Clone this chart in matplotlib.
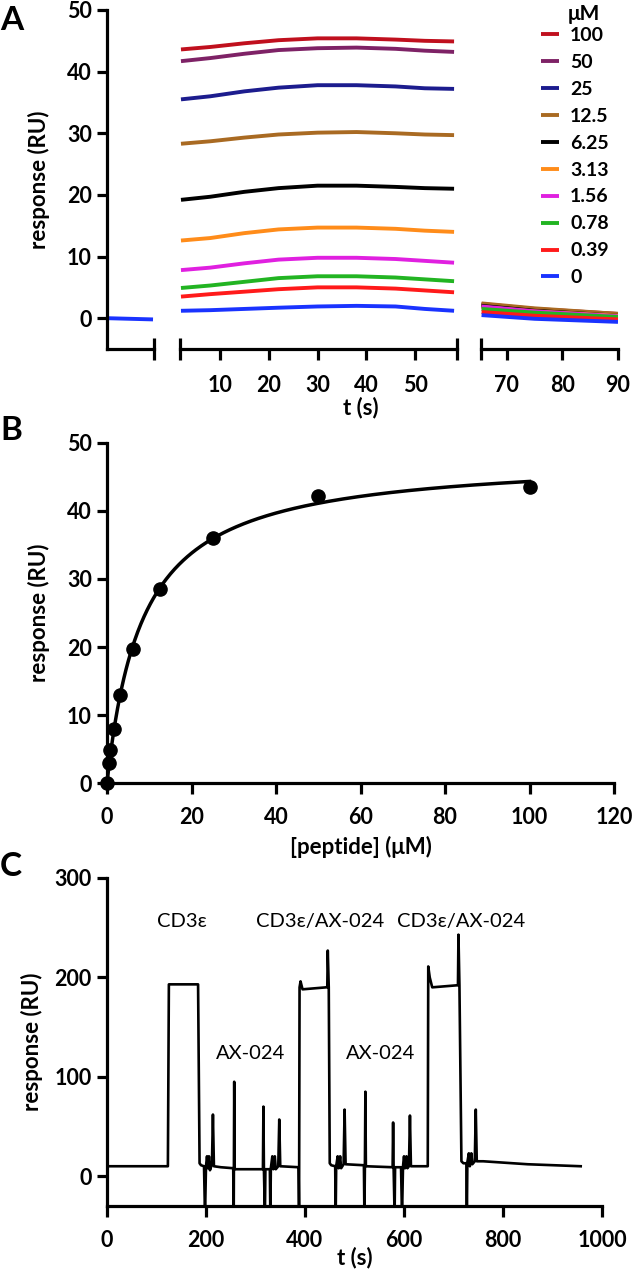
import numpy as np
import matplotlib
matplotlib.use("Agg")
import matplotlib.pyplot as plt

plt.rcParams['font.family'] = ['Lato', 'DejaVu Sans']
plt.rcParams['axes.linewidth'] = 2.3
plt.rcParams['xtick.major.width'] = 2.3
plt.rcParams['ytick.major.width'] = 2.3
plt.rcParams['xtick.minor.width'] = 2.3

# ---------------- Panel A data ----------------
conc_labels = ["100", "50", "25", "12.5", "6.25", "3.13", "1.56", "0.78", "0.39", "0"]
colors_A = ["#c0101e", "#7e2266", "#1c1c8e", "#a96a22", "#000000",
            "#ff8c1a", "#e020e0", "#22b422", "#ff1a1a", "#1a33ff"]

t_assoc = [2, 8, 15, 22, 30, 38, 46, 52, 58]
assoc_100 = [43.6, 44.0, 44.6, 45.1, 45.4, 45.4, 45.2, 45.0, 44.9]
assoc_50 = [41.7, 42.2, 42.9, 43.5, 43.8, 43.9, 43.7, 43.4, 43.2]
assoc_25 = [35.5, 36.0, 36.8, 37.4, 37.8, 37.8, 37.6, 37.3, 37.2]
assoc_12_5 = [28.3, 28.7, 29.3, 29.8, 30.1, 30.2, 30.0, 29.8, 29.7]
assoc_6_25 = [19.2, 19.7, 20.5, 21.1, 21.5, 21.5, 21.3, 21.1, 21.0]
assoc_3_13 = [12.6, 13.0, 13.8, 14.4, 14.7, 14.7, 14.5, 14.2, 14.0]
assoc_1_56 = [7.8, 8.2, 8.9, 9.5, 9.8, 9.8, 9.6, 9.3, 9.0]
assoc_0_78 = [4.9, 5.3, 5.9, 6.5, 6.8, 6.8, 6.6, 6.3, 6.0]
assoc_0_39 = [3.5, 3.9, 4.3, 4.7, 5.0, 5.0, 4.8, 4.5, 4.2]
assoc_0 = [1.2, 1.3, 1.5, 1.7, 1.9, 2.0, 1.9, 1.5, 1.2]
assoc_all = [assoc_100, assoc_50, assoc_25, assoc_12_5, assoc_6_25,
             assoc_3_13, assoc_1_56, assoc_0_78, assoc_0_39, assoc_0]

t_dissoc = [65.5, 75, 90]
dissoc_100 = [2.3, 1.5, 0.7]
dissoc_50 = [2.2, 1.4, 0.6]
dissoc_25 = [2.1, 1.3, 0.5]
dissoc_12_5 = [2.4, 1.6, 0.7]
dissoc_6_25 = [2.0, 1.2, 0.4]
dissoc_3_13 = [1.8, 1.1, 0.4]
dissoc_1_56 = [1.9, 1.1, 0.3]
dissoc_0_78 = [1.5, 0.9, 0.2]
dissoc_0_39 = [1.0, 0.4, -0.2]
dissoc_0 = [0.5, -0.1, -0.6]
dissoc_all = [dissoc_100, dissoc_50, dissoc_25, dissoc_12_5, dissoc_6_25,
              dissoc_3_13, dissoc_1_56, dissoc_0_78, dissoc_0_39, dissoc_0]

t_base = [-9.5, -0.2]
base_0 = [0.0, -0.2]

# ---------------- Panel B data ----------------
peptide_conc = [0, 0.39, 0.78, 1.56, 3.13, 6.25, 12.5, 25, 50, 100]
peptide_resp = [0.0, 2.9, 4.8, 7.9, 12.9, 19.7, 28.5, 36.0, 42.2, 43.6]

# ---------------- Panel C data ----------------
t_C = [0, 123, 125, 184, 187, 190, 196, 198, 200, 202, 204, 206, 208, 212, 214, 216,
       230, 255, 256, 257, 258, 300, 315, 316, 317, 319, 320, 329, 330, 331, 334, 336,
       339, 341, 346, 348, 350, 387, 388, 389, 391, 395, 443, 445, 446, 448, 450, 453,
       461, 462, 463, 466, 468, 471, 473, 478, 480, 482, 519, 520, 521, 522, 523, 577,
       578, 579, 581, 582, 594, 596, 598, 600, 602, 605, 607, 610, 612, 614, 648, 649,
       652, 657, 706, 709, 710, 712, 716, 720, 726, 727, 728, 731, 733, 736, 738, 743,
       745, 747, 760, 850, 957]
resp_C = [10, 10, 193, 193, 13, 11, 10, -40, 10, 20, 8, 20, 6, 12, 62, 10,
          9, 8, -40, 95, 7, 7, 7, 70, 7, -40, 7, 7, -40, 8, 20, 7,
          20, 7, 10, 57, 10, 9, -40, 190, 196, 188, 190, 190, 227, 190, 13, 11,
          10, -40, 10, 20, 8, 20, 8, 12, 67, 12, 11, -40, 10, 85, 10, 9,
          54, 9, -40, 9, 9, -40, 10, 20, 8, 20, 8, 10, 61, 10, 10, 211,
          200, 190, 192, 192, 243, 192, 15, 13, 13, -40, 14, 23, 10, 23, 12, 15,
          67, 15, 15, 12, 10]
labels_C = ["CD3\u03b5", "AX-024", "CD3\u03b5/AX-024", "AX-024", "CD3\u03b5/AX-024"]
label_t_C = [151, 290, 430, 552, 716]
label_y_C = [256, 123, 256, 123, 256]

W, H = 633, 1269
fig = plt.figure(figsize=(W / 100, H / 100), dpi=100)


def frac_box(x0, y0, x1, y1):
    return [x0 / W, 1 - y1 / H, (x1 - x0) / W, (y1 - y0) / H]


TICK_FS = 15.5
LAB_FS = 16
lw = 2.8


def bold_ticks(ax):
    for t in ax.get_xticklabels() + ax.get_yticklabels():
        t.set_fontweight('bold')


# ---- Panel A: three broken axes ----
axA1 = fig.add_axes(frac_box(107, 10, 154, 349))
axA2 = fig.add_axes(frac_box(180, 10, 457, 349))
axA3 = fig.add_axes(frac_box(481, 10, 618, 349))
for ax in (axA1, axA2, axA3):
    ax.set_ylim(-5, 50)
    ax.spines['top'].set_visible(False)
    ax.spines['right'].set_visible(False)
    ax.patch.set_alpha(0)
for ax in (axA2, axA3):
    ax.spines['left'].set_visible(False)
    ax.tick_params(axis='y', left=False, labelleft=False)

axA1.set_xlim(-9.5, 0)
axA2.set_xlim(1.8, 58.6)
axA3.set_xlim(65.4, 90)

axA1.plot(t_base, base_0, color=colors_A[-1], lw=lw, solid_capstyle='butt')
for lab, col, ya, yd in zip(conc_labels, colors_A, assoc_all, dissoc_all):
    axA2.plot(t_assoc, ya, color=col, lw=lw, label=lab, solid_capstyle='butt')
    axA3.plot(t_dissoc, yd, color=col, lw=lw, solid_capstyle='butt')

axA1.set_yticks([0, 10, 20, 30, 40, 50])
axA1.set_xticks([])
axA1.set_xticks([0], minor=True)
axA2.set_xticks([10, 20, 30, 40, 50])
axA2.set_xticks([1.8, 58.6], minor=True)
axA3.set_xticks([70, 80, 90])
axA3.set_xticks([65.4], minor=True)
for ax in (axA1, axA2, axA3):
    ax.tick_params(axis='x', which='major', direction='out', length=8, labelsize=TICK_FS, pad=11)
    ax.tick_params(axis='x', which='minor', direction='inout', length=16)
    ax.tick_params(axis='y', direction='out', length=7, labelsize=TICK_FS, pad=4)
    bold_ticks(ax)
axA1.set_ylabel("response (RU)", fontsize=LAB_FS, fontweight='bold', labelpad=12)
axA2.set_xlabel("t (s)", fontsize=LAB_FS, fontweight='bold')
axA2.xaxis.set_label_coords((361 - 180) / (457 - 180), -(408 - 349) / (349 - 10))
axA2.xaxis.label.set_va('center')

handles, labs = axA2.get_legend_handles_labels()
leg = fig.legend(handles, labs, loc='upper left',
                 bbox_to_anchor=(541 / W, 1 - 27 / H), frameon=False, borderpad=0,
                 borderaxespad=0,
                 prop={'weight': 'bold', 'size': 14},
                 handlelength=0.9, handletextpad=0.6, labelspacing=0.51)
fig.text(584 / W, 1 - 14 / H, "\u03bcM", fontsize=15, fontweight='bold', ha='center', va='center')

fig.text(0 / W, 1 - 20 / H, "A", fontsize=24, fontweight='bold', va='center', ha='left')

# ---- Panel B ----
axB = fig.add_axes(frac_box(107, 443, 614, 783))
axB.set_xlim(0, 120)
axB.set_ylim(0, 50)
axB.spines['top'].set_visible(False)
axB.spines['right'].set_visible(False)
axB.plot(peptide_conc, peptide_resp, 'o', color='black', ms=9.5, clip_on=False, zorder=5)
# hyperbolic binding fit (least squares over Kd grid, Rmax solved linearly)
xc = np.array(peptide_conc)
yc = np.array(peptide_resp)
best = None
for kd in np.linspace(1, 30, 2901):
    f = xc / (kd + xc)
    rmax = (f @ yc) / (f @ f)
    err = np.sum((yc - rmax * f) ** 2)
    if best is None or err < best[0]:
        best = (err, kd, rmax)
_, kd_fit, rmax_fit = best
xf = np.linspace(0, 100, 400)
axB.plot(xf, rmax_fit * xf / (kd_fit + xf), color='black', lw=2.5, clip_on=False)
axB.set_xticks(range(0, 121, 20))
axB.set_yticks(range(0, 51, 10))
axB.tick_params(axis='x', direction='out', length=8, labelsize=TICK_FS, pad=9)
axB.tick_params(axis='y', direction='out', length=7, labelsize=TICK_FS, pad=4)
bold_ticks(axB)
axB.set_xlabel("[peptide] (\u03bcM)", fontsize=LAB_FS, fontweight='bold', labelpad=6)
axB.set_ylabel("response (RU)", fontsize=LAB_FS, fontweight='bold', labelpad=12)
fig.text(0 / W, 1 - 430 / H, "B", fontsize=24, fontweight='bold', va='center', ha='left')

# ---- Panel C ----
axC = fig.add_axes(frac_box(107, 878, 602, 1206))
axC.set_xlim(0, 1000)
axC.set_ylim(-30, 300)
axC.spines['top'].set_visible(False)
axC.spines['right'].set_visible(False)
axC.plot(t_C, resp_C, color='black', lw=1.9)
for lab, tx, ty in zip(labels_C, label_t_C, label_y_C):
    axC.text(tx, ty, lab, ha='center', va='center', fontsize=14.5)
axC.set_xticks(range(0, 1001, 200))
axC.set_yticks([0, 100, 200, 300])
axC.tick_params(axis='x', direction='out', length=8, labelsize=TICK_FS, pad=9)
axC.tick_params(axis='y', direction='out', length=7, labelsize=TICK_FS, pad=4)
bold_ticks(axC)
axC.set_xlabel("t (s)", fontsize=LAB_FS, fontweight='bold', labelpad=-3)
axC.set_ylabel("response (RU)", fontsize=LAB_FS, fontweight='bold', labelpad=8)
fig.text(0 / W, 1 - 867 / H, "C", fontsize=24, fontweight='bold', va='center', ha='left')

fig.savefig("out.png", dpi=100)
